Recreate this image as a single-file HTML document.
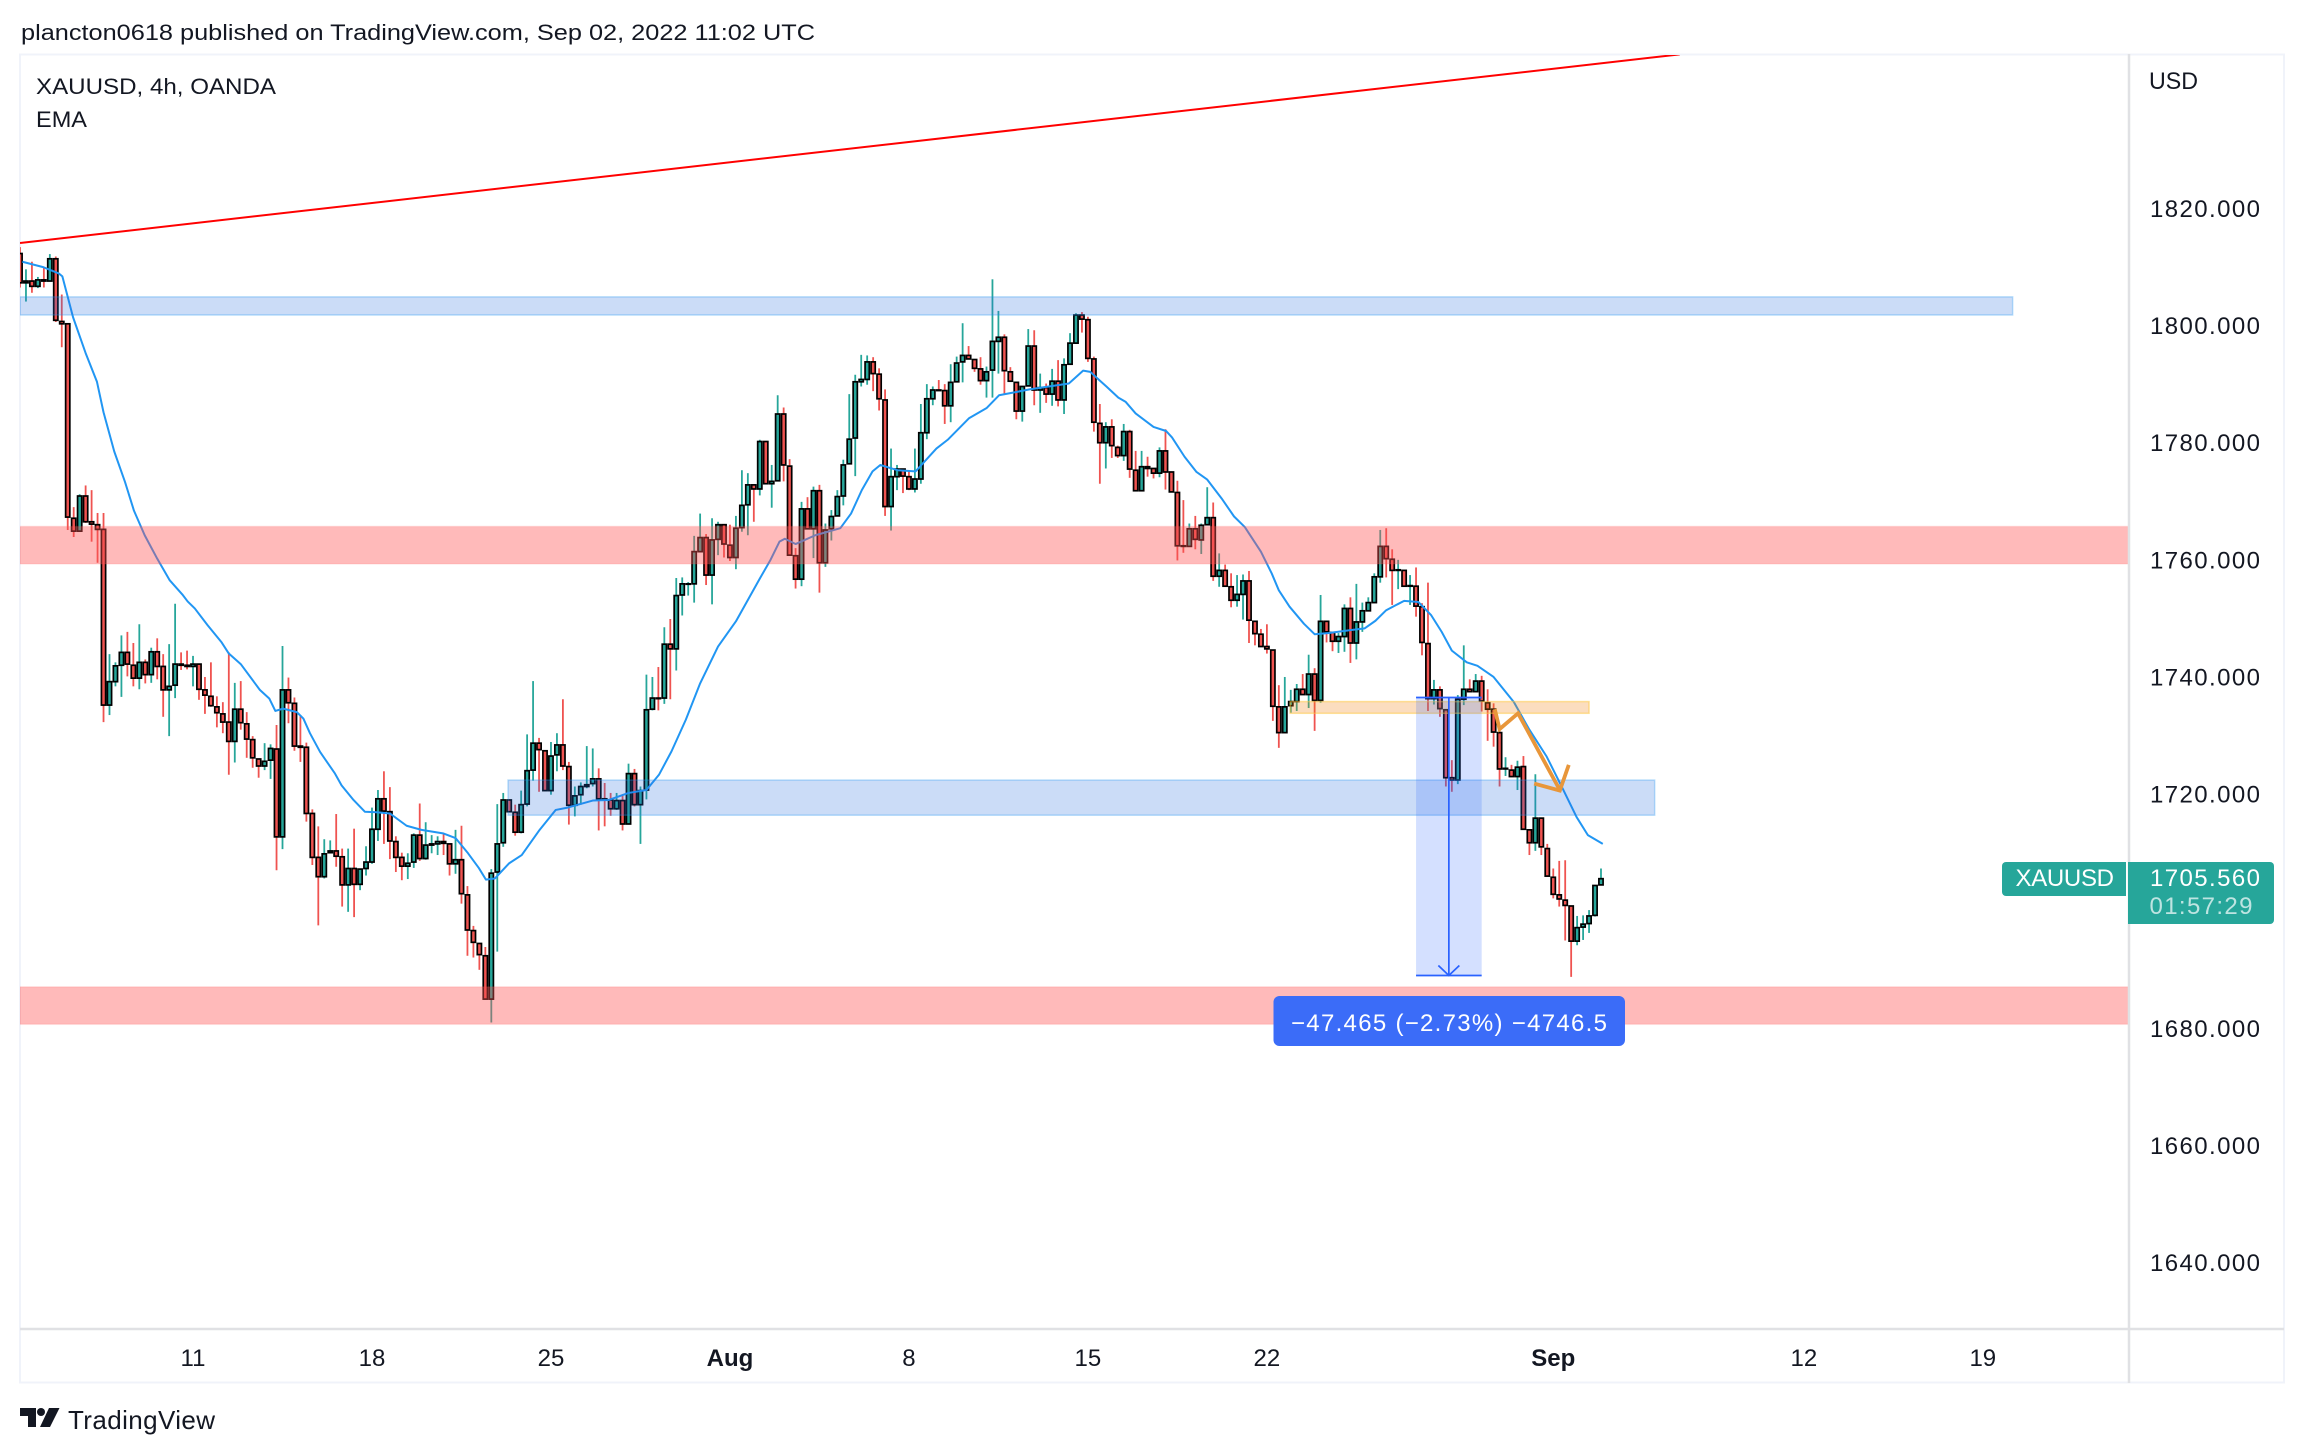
<!DOCTYPE html>
<html lang="en">
<head>
<meta charset="utf-8">
<title>XAUUSD 4h chart</title>
<style>
html,body{margin:0;padding:0;background:#fff;width:2304px;height:1454px;overflow:hidden}
svg{display:block}
text{font-family:"Liberation Sans",sans-serif;fill:#131722}
</style>
</head>
<body>
<svg id="chart" xmlns="http://www.w3.org/2000/svg" width="2304" height="1454" viewBox="0 0 2304 1454">
  <defs>
    <clipPath id="plot-clip"><rect x="20" y="55" width="2108" height="1273"/></clipPath>
  </defs>
  <rect x="0" y="0" width="2304" height="1454" fill="#fff"/>
  <text x="21" y="40" font-size="22" textLength="794" lengthAdjust="spacingAndGlyphs">plancton0618 published on TradingView.com, Sep 02, 2022 11:02 UTC</text>
  <rect x="20" y="54.5" width="2264" height="1328" fill="none" stroke="#f0f3fa" stroke-width="2"/>
  <g id="candles" clip-path="url(#plot-clip)"></g>
  <g id="ema" clip-path="url(#plot-clip)"></g>
  <g id="zones" clip-path="url(#plot-clip)"></g>
  <g id="drawings" clip-path="url(#plot-clip)"></g>
  <line x1="2129" y1="54" x2="2129" y2="1383" stroke="#e0e1e4" stroke-width="2.5"/>
  <line x1="20" y1="1329" x2="2284" y2="1329" stroke="#e0e1e4" stroke-width="2.5"/>
  <text x="36" y="94" font-size="22" textLength="240" lengthAdjust="spacingAndGlyphs">XAUUSD, 4h, OANDA</text>
  <text x="36" y="127" font-size="22" textLength="51" lengthAdjust="spacingAndGlyphs">EMA</text>
  <text x="2149" y="89" font-size="24" textLength="49" lengthAdjust="spacingAndGlyphs">USD</text>
  <g id="price-axis"></g>
  <g id="time-axis"></g>
  <g id="measure-label">
    <rect x="1273.5" y="996" width="351.5" height="50" rx="6" fill="#3b6cf8"/>
    <text x="1291" y="1031" font-size="24" textLength="316" lengthAdjust="spacing" style="fill:#fff">−47.465 (−2.73%) −4746.5</text>
  </g>
  <g>
    <path d="M2006 862H2126V896H2006a4 4 0 0 1-4-4V866a4 4 0 0 1 4-4Z" fill="#26a69a"/>
    <text x="2015.5" y="886" font-size="24" textLength="98.5" lengthAdjust="spacing" style="fill:#fff">XAUUSD</text>
    <path d="M2128 862H2270a4 4 0 0 1 4 4V920a4 4 0 0 1-4 4H2128Z" fill="#26a69a"/>
    <text x="2150" y="886" font-size="24" textLength="110" lengthAdjust="spacing" style="fill:#fff">1705.560</text>
    <text x="2149.5" y="914" font-size="24" textLength="103" lengthAdjust="spacing" style="fill:#fff;fill-opacity:.7">01:57:29</text>
  </g>
  <g>
    <path d="M20 1408H36V1427H28V1416H20Z" fill="#131722"/>
    <circle cx="41" cy="1412" r="4" fill="#131722"/>
    <path d="M49 1408H59.500L50 1427H40Z" fill="#131722"/>
    <text x="68" y="1429" font-size="26" textLength="147" lengthAdjust="spacing">TradingView</text>
  </g>
</svg>
<script>
var opens=[1812.3,1807.3,1807.6,1806.7,1807.8,1807.6,1811.4,1800.7,1800.3,1767.1,
1764.9,1770.9,1766.5,1766,1765.2,1735.2,1739.2,1742,1744.2,1742,
1739.8,1742.5,1740.4,1744.3,1741.8,1737.8,1738.6,1742.2,1742,1741.8,
1742.2,1737.8,1736.7,1734.9,1733.7,1732.3,1729,1734.5,1732,1729.3,
1726,1724.8,1725.8,1727.7,1712.7,1737.8,1735.5,1728.2,1728,1716.7,
1709.2,1705.9,1710,1710.3,1709.3,1704.5,1707.3,1704.6,1707.3,1708.4,
1714,1719.2,1717,1711.9,1709.2,1707.7,1708.4,1713,1709,1711.3,
1711.5,1711.9,1711.5,1708.1,1708.8,1702.8,1696.7,1694.5,1692.4,1685,
1706.7,1711.7,1719,1716.9,1713.5,1718.3,1724.1,1728.7,1727.4,1720.6,
1726.7,1728.4,1724.7,1718.1,1719.9,1721.3,1721.8,1722.6,1719.2,1719,
1717.5,1718.9,1714.9,1723.5,1718.2,1720.7,1734.5,1736.4,1736.4,1745.6,
1744.8,1754,1755.9,1755.9,1761.4,1763.8,1757.4,1763.5,1766,1762.5,
1760.4,1765.5,1769.4,1772.8,1772.1,1780.2,1773,1773.5,1784.9,1776,
1760.7,1756.7,1768.7,1765.3,1771.8,1759.5,1765.3,1767.5,1770.9,1776.4,
1780.8,1790.4,1790.8,1793.8,1791.7,1787.3,1769.1,1774.2,1775.5,1774.2,
1772.1,1773.8,1781.7,1787.5,1789,1788.9,1786.3,1790.4,1793.8,1794.9,
1794.2,1792.6,1790.6,1792.4,1797.3,1798,1792.1,1790.3,1785.4,1789.7,
1796.5,1789,1789.4,1788.3,1790.5,1787.3,1793.4,1797,1801.8,1801,
1794.3,1783.3,1780,1782.7,1779.2,1777.8,1781.9,1775.3,1771.8,1775.9,
1775.6,1774.8,1778.6,1775,1771.5,1762.4,1762.3,1765.3,1763.4,1766,
1767.2,1757.2,1758.2,1755.4,1753.1,1754.1,1756.4,1749.5,1747.3,1745.2,
1744.6,1734.9,1730.5,1735.1,1735.8,1737.9,1737,1740.5,1736,1749.5,
1747.6,1746.1,1746.9,1751.7,1745.8,1749.4,1751.3,1752.7,1757.1,1762.3,
1760.1,1758.2,1758.2,1755.5,1755.5,1752,1745.7,1736.3,1737.8,1734.4,
1722.8,1722.4,1736.2,1737.9,1737.5,1739.3,1735.6,1734.5,1730.5,1724.3,
1724.1,1723,1724.7,1713.9,1711.7,1715.9,1710.7,1705.8,1702.8,1701.9,
1700.9,1694.9,1697.3,1697.9,1699.3,1704.5];
var closes=[1807.3,1807.6,1806.7,1807.8,1807.6,1811.4,1800.9,1800.3,1767.3,1764.9,
1770.9,1766.5,1766.1,1765.2,1735.2,1739.2,1741.9,1744.2,1742.2,1739.8,
1742.5,1740.4,1744.3,1741.8,1737.8,1738.4,1742.2,1742,1741.8,1742.2,
1737.9,1736.9,1735.1,1733.9,1732.3,1729,1734.5,1732.2,1729.4,1726.2,
1724.8,1725.6,1727.8,1712.7,1737.8,1735.6,1728.2,1728,1716.7,1709.2,
1705.9,1709.8,1710.3,1709.4,1704.5,1707.3,1704.6,1707.2,1708.4,1714,
1719.2,1717.1,1712,1709.2,1707.7,1708.2,1713,1709,1711.3,1711.5,
1711.9,1711.6,1708.1,1708.8,1703,1696.8,1694.7,1692.6,1685,1706.5,
1711.5,1719,1717,1713.5,1718.2,1724,1728.7,1727.6,1720.6,1726.5,
1728.4,1724.8,1718.1,1719.7,1721.3,1721.6,1722.6,1719.2,1719,1717.5,
1718.9,1714.9,1723.5,1718.2,1720.6,1734.4,1736.4,1736.3,1745.6,1744.8,
1753.9,1755.9,1755.9,1761.4,1763.8,1757.4,1763.4,1766,1762.7,1760.4,
1765.4,1769.3,1772.8,1772.1,1780.2,1773,1773.4,1784.9,1776.2,1760.8,
1756.7,1768.7,1765.3,1771.8,1759.5,1765.1,1767.4,1770.8,1776.2,1780.6,
1790.4,1790.8,1793.8,1791.8,1787.5,1769.1,1774.2,1775.5,1774.3,1772.1,
1773.8,1781.7,1787.5,1789,1788.9,1786.3,1790.3,1793.6,1794.9,1794.3,
1792.7,1790.6,1792.1,1797.3,1798,1792.3,1790.5,1785.4,1789.6,1796.5,
1789,1789.4,1788.3,1790.5,1787.3,1793.3,1797,1801.8,1801.1,1794.4,
1783.5,1780,1782.7,1779.5,1777.8,1781.9,1775.5,1771.8,1775.9,1775.6,
1774.8,1778.6,1775,1771.6,1762.4,1762.3,1765.3,1763.5,1765.9,1767.2,
1757.2,1758.2,1755.5,1753.1,1754.1,1756.4,1749.7,1747.4,1745.2,1744.8,
1735,1730.5,1734.9,1735.8,1737.9,1737,1740.5,1736,1749.5,1747.7,
1746.1,1746.9,1751.7,1745.8,1749.4,1751.3,1752.7,1757.1,1762.3,1760.2,
1758.2,1758.3,1755.5,1755.6,1752.1,1745.9,1736.3,1737.8,1734.6,1722.8,
1722.4,1736.2,1737.9,1737.5,1739.3,1735.9,1734.5,1730.6,1724.3,1724.4,
1723,1724.6,1714,1711.7,1715.9,1711,1706,1702.9,1702.1,1701,
1694.9,1697.2,1697.8,1699.2,1704.4,1705.56];
var highs=[1813.4,1809.6,1810.9,1808.3,1809.9,1812.2,1811.8,1805.3,1800.3,1769,
1771.2,1772.7,1771.9,1768,1768,1743.9,1742.5,1747.1,1747.7,1745.8,
1749,1743,1745,1746.6,1743.9,1745.6,1752.5,1744.2,1744.5,1743.6,
1742.2,1740,1742.5,1736.7,1735.7,1744.2,1739,1739.3,1734,1729.9,
1726,1728.7,1728.5,1731.8,1745.3,1739.9,1736.5,1733.5,1728.8,1717.4,
1714.5,1712.3,1712.1,1716.6,1710.7,1710.7,1714.1,1707.2,1711.1,1717.7,
1720.7,1723.9,1721.2,1712.8,1710,1709.9,1713.3,1718.4,1715.2,1713,
1712.8,1713.3,1711.5,1713.9,1714.6,1704.3,1697.5,1694.5,1693.9,1707.2,
1718.3,1720.2,1719.1,1718.2,1720.6,1730.2,1739.3,1729.6,1727.4,1728.9,
1730.4,1736.2,1725.5,1721.3,1722,1728.2,1727.8,1724.4,1721.9,1720.2,
1720.2,1719.7,1725.2,1724.3,1721.3,1740.4,1740,1741.7,1748.5,1749.9,
1756.9,1757,1756.2,1764.1,1767.9,1764.4,1767.1,1766.5,1766,1766,
1767.5,1775.3,1774.8,1772.8,1780.5,1780.3,1776.2,1788.1,1786,1777.2,
1762,1769.9,1770.7,1772.5,1772.8,1766.2,1768.5,1771.9,1777.1,1788.3,
1791.6,1795,1794.9,1794.6,1792.7,1789.1,1779,1776.2,1775.5,1775.3,
1779,1786.6,1790,1789.6,1790.7,1790,1793.4,1794.7,1800.4,1796.5,
1794.2,1794.6,1793,1807.9,1802.5,1798.5,1792.9,1790.3,1789.7,1799.4,
1799.2,1791.8,1790.1,1792.6,1794.1,1794.4,1798.7,1802.1,1802.3,1801.5,
1794.7,1786.6,1783.5,1784,1779.5,1783.2,1782.2,1778.6,1778.6,1777.6,
1775.6,1779.2,1782.3,1775,1773.5,1770.2,1766.2,1767.5,1766.2,1772.4,
1769.8,1761.1,1759.2,1757.7,1757.4,1757.5,1758.1,1749.5,1748.2,1749,
1744.6,1738.6,1740,1737.8,1738.8,1740.5,1743.8,1741.5,1754,1749.5,
1747.6,1747.5,1752.4,1753.6,1755.9,1752.7,1753.6,1757.7,1765.1,1765.4,
1761.8,1760,1758.2,1757.4,1758.7,1752.6,1756.1,1739.5,1738.4,1734.4,
1725.8,1736.9,1745.4,1739.6,1740.5,1740.2,1737.9,1735.5,1731.8,1726.3,
1725,1725.7,1726.5,1713.9,1723.4,1715.9,1711.5,1707.3,1708.6,1708.7,
1700.9,1699.2,1699.3,1700.2,1704.4,1707.3];
var lows=[1806.5,1804.1,1805.6,1806.4,1806.5,1807.6,1800.6,1796.3,1765.1,1763.9,
1764.9,1766.3,1763.1,1759.5,1732.3,1733.5,1738.4,1736.6,1740.1,1738.4,
1737.9,1738.9,1739,1739.6,1733.2,1729.9,1736.4,1741.2,1741.3,1738.4,
1736.1,1733.7,1734.9,1731.4,1730.4,1723.3,1725.4,1731,1726.2,1724.5,
1722.8,1724.1,1722.6,1707,1710.6,1732.1,1727.4,1725.5,1715.3,1707.9,
1697.6,1705.6,1709.9,1707.6,1700.8,1699.9,1699,1703.6,1706.1,1708.1,
1712,1711.5,1708.9,1706.7,1705.3,1705.5,1707.4,1708.6,1708.8,1709.9,
1709.6,1709.6,1706.1,1706.4,1701.3,1692.4,1692.1,1690,1685,1681,
1693.1,1711,1717,1712.9,1713.3,1717.9,1722.3,1720.4,1720.6,1719.9,
1723.9,1724.1,1714.8,1716.2,1718.2,1721,1721.3,1713.8,1714.5,1716.3,
1717.3,1713.8,1714.8,1717.9,1711.5,1719.1,1734.3,1734.3,1735.4,1736.2,
1741.1,1750.5,1753.9,1752.7,1761.7,1755.7,1752.4,1760.8,1760.4,1759.8,
1758.4,1764.8,1764.2,1766.5,1771,1773,1768.9,1773.5,1773.4,1760.8,
1755.1,1755.5,1765.3,1760.3,1754.4,1758.8,1763.3,1767.5,1769.3,1776.4,
1774.3,1789.6,1789.9,1788.8,1785.5,1767.5,1765,1771.9,1771.4,1771.9,
1771.5,1773,1780.6,1786.4,1788.9,1783.2,1783.5,1790.4,1790.3,1794.3,
1792.1,1789.9,1787.7,1787.7,1791.8,1788.3,1790.5,1784,1783.6,1789.7,
1786.4,1785.1,1786.8,1786.3,1786.2,1784.9,1793.4,1797,1798.8,1793.8,
1781.9,1773,1775.6,1777.4,1777.4,1776.9,1774,1771.8,1771.8,1774.2,
1773.9,1774.1,1772,1771.6,1759.9,1761.2,1762.3,1761.8,1761,1766,
1756.4,1755.4,1755.4,1751.9,1752,1749.8,1745.8,1745.4,1745.2,1744,
1732.5,1727.9,1730.5,1733.9,1734.2,1737,1734.7,1730.8,1735.6,1745.9,
1744.4,1744.1,1744.3,1742.4,1743,1747.7,1751.3,1752.6,1756.1,1757,
1752.3,1755,1755.5,1752.3,1750.3,1743.7,1734.2,1735.3,1733.2,1721.3,
1720.4,1721.7,1735.2,1737.5,1737.5,1734.1,1729.1,1728.1,1721.3,1723.1,
1722.9,1720.7,1714,1709.6,1710.3,1709.6,1706,1702.2,1700.8,1695,
1688.8,1694.2,1695.1,1696.3,1699.1,1704.5];
var emaBars=[0.4,3.8,6.5,7.1,8.9,11,12.9,14,15.8,17.6,
19.1,20.9,23,25.1,27.2,28.1,29.3,31.4,33.8,35,
37,40.2,41.8,42.8,44.1,46.4,47.5,48.6,50.3,52.8,
53.9,55.9,57.8,59.8,62,64.8,67.3,70.9,73,75.1,
76.9,78.1,79.6,82,84.1,87.1,89.8,91.8,96,98.7,
102,105,107.1,109.2,111.6,114,117,120,124,125.8,
127.3,128.2,130,133.3,137.5,139.3,141.1,142.9,144.2,147.1,
150.1,153.6,155.5,159.1,162,164.1,166.2,169.2,175.8,178.2,
179.4,181,182.1,184.1,185.3,187,190,192.1,193.1,195.2,
197.2,199,201.4,203.5,205.3,208,209.8,211,212.8,215.2,
217,219.4,223,225.4,227.2,229,232,234.4,236.5,238.3,
240,242.5,244.3,247,250.4,253,255.9,258.7,260.9,262.8,
265.3];
var emaValues=[1810.9,1810,1808.9,1808.4,1801.4,1795.3,1790.4,1785.2,1778.5,1773.3,
1768.4,1764.2,1760.2,1756.5,1754.1,1752.9,1751.7,1748.9,1745.9,1744,
1742.2,1737.8,1736.3,1734.2,1734.6,1734,1732.9,1730.4,1727.2,1723.5,
1721.5,1719,1717,1716.9,1716.7,1714.6,1713.9,1713.3,1712.5,1709.9,
1707.4,1705.4,1705.6,1708.2,1709.6,1713.9,1717.3,1717.7,1718.9,1719,
1720.2,1720.7,1723.3,1727.3,1732.7,1738.9,1745.2,1749.5,1756.8,1760,
1763.1,1763.6,1762.7,1764.2,1765.4,1767.9,1771.9,1775.1,1776.2,1775.3,
1775.1,1779,1780.5,1784.2,1785.9,1788.1,1788.5,1789.1,1790.1,1792.3,
1792.1,1790.6,1789.6,1787.7,1787,1785,1782.7,1782,1780.9,1777.6,
1775,1773.7,1770.5,1767.4,1765.6,1761.4,1757.7,1754.8,1752,1749.1,
1747.3,1747.5,1748,1748.3,1749.6,1751.4,1753,1752.8,1750.6,1747.7,
1744.5,1742.5,1741.9,1740,1735.7,1731,1726.4,1720.7,1716.1,1713,
1711.5];
var priceTicks=[1820,1800,1780,1760,1740,1720,1700,1680,1660,1640];
var priceTickLabels=["1820.000","1800.000","1780.000","1760.000","1740.000","1720.000","","1680.000","1660.000","1640.000"];
var timeLabels=["11","18","25","Aug","8","15","22","Sep","12","19"];
var timeLabelBars=[29,59,89,119,149,179,209,257,299,329];
var zoneFromBars=[0,0,0,81.8,212.9];
var zoneToBars=[334,354,354,274,263];
var zoneHighs=[1804.9,1765.7,1687.1,1722.4,1735.8];
var zoneLows=[1801.8,1759.3,1680.7,1716.4,1733.8];
var zoneNames=["resistance-zone-blue","supply-zone-red","demand-zone-red","support-zone-blue","retest-zone-orange"];
var zoneFills=["rgba(36,110,220,.24)","rgba(255,82,82,.4)","rgba(255,82,82,.4)","rgba(36,110,220,.24)","rgba(240,130,20,.27)"];
var zoneStrokes=["rgba(33,150,243,.3)","rgba(255,82,82,.12)","rgba(255,82,82,.12)","rgba(33,150,243,.3)","rgba(255,200,60,.5)"];
var trendBars=[0,278.2];
var trendPrices=[1814.1,1846.3];
var measureBars=[234,245];
var measurePrices=[1736.5,1689.03];
var pathBars=[247.2,248,251.1,258.1];
var pathPrices=[1734.5,1731.1,1733.8,1720.7];
var headBars=[253.8,258.1,259.6];
var headPrices=[1721.8,1720.6,1725];

var SVGNS='http://www.w3.org/2000/svg';
function xOf(bar){return 20+bar*5.966;}
function yOf(price){return 1028.4-(price-1680)*5.857;}
function mk(tag,parent){var el=document.createElementNS(SVGNS,tag);parent.appendChild(el);return el;}
function pts(bars,prices){var s=[];for(var i=0;i<bars.length;i++){s.push(xOf(bars[i]).toFixed(2)+','+yOf(prices[i]).toFixed(2));}return s.join(' ');}

var candleLayer=document.getElementById('candles');
for(var i=0;i<opens.length;i++){
  var up=closes[i]>=opens[i];
  var col=up?'#26a69a':'#ef5350';
  var cx=xOf(i);
  var wick=mk('line',candleLayer);
  
  
  wick.setAttribute('x1',cx);wick.setAttribute('x2',cx);
  wick.setAttribute('y1',yOf(highs[i]));wick.setAttribute('y2',yOf(lows[i]));
  wick.setAttribute('stroke',col);wick.setAttribute('stroke-width','1.8');
  var bodyTop=yOf(Math.max(opens[i],closes[i]));
  var bodyBottom=yOf(Math.min(opens[i],closes[i]));
  var body=mk('rect',candleLayer);
  
  
  body.setAttribute('x',cx-2.1);body.setAttribute('width',4.2);
  body.setAttribute('y',bodyTop);body.setAttribute('height',Math.max(bodyBottom-bodyTop,0.4));
  body.setAttribute('fill',col);body.setAttribute('stroke','#000');body.setAttribute('stroke-width','1.7');
}

var emaLayer=document.getElementById('ema');
var emaLine=mk('polyline',emaLayer);


emaLine.setAttribute('points',pts(emaBars,emaValues));
emaLine.setAttribute('fill','none');emaLine.setAttribute('stroke','#2196f3');emaLine.setAttribute('stroke-width','2');emaLine.setAttribute('stroke-linejoin','round');

var zoneLayer=document.getElementById('zones');
for(var z=0;z<zoneNames.length;z++){
  var zr=mk('rect',zoneLayer);
  
  
  zr.setAttribute('x',xOf(zoneFromBars[z]));
  zr.setAttribute('width',xOf(zoneToBars[z])-xOf(zoneFromBars[z]));
  zr.setAttribute('y',yOf(zoneHighs[z]));
  zr.setAttribute('height',yOf(zoneLows[z])-yOf(zoneHighs[z]));
  zr.setAttribute('fill',zoneFills[z]);
  zr.setAttribute('stroke',zoneStrokes[z]);
  zr.setAttribute('stroke-width','1.5');
}

var drawLayer=document.getElementById('drawings');
var trend=mk('polyline',drawLayer);


trend.setAttribute('points',pts(trendBars,trendPrices));
trend.setAttribute('fill','none');trend.setAttribute('stroke','#ff0000');trend.setAttribute('stroke-width','2');

var mBox=mk('rect',drawLayer);


mBox.setAttribute('x',xOf(measureBars[0]));
mBox.setAttribute('width',xOf(measureBars[1])-xOf(measureBars[0]));
mBox.setAttribute('y',yOf(measurePrices[0]));
mBox.setAttribute('height',yOf(measurePrices[1])-yOf(measurePrices[0]));
mBox.setAttribute('fill','rgba(41,98,255,.2)');

for(var m=0;m<2;m++){
  var mEdge=mk('line',drawLayer);
  
  
  mEdge.setAttribute('x1',xOf(measureBars[0]));mEdge.setAttribute('x2',xOf(measureBars[1]));
  mEdge.setAttribute('y1',yOf(measurePrices[m]));mEdge.setAttribute('y2',yOf(measurePrices[m]));
  mEdge.setAttribute('stroke','#2962ff');mEdge.setAttribute('stroke-width','1.7');
}
var midBar=(measureBars[0]+measureBars[1])/2;
var mLine=mk('line',drawLayer);


mLine.setAttribute('x1',xOf(midBar));mLine.setAttribute('x2',xOf(midBar));
mLine.setAttribute('y1',yOf(measurePrices[0]));mLine.setAttribute('y2',yOf(measurePrices[1]));
mLine.setAttribute('stroke','#2962ff');mLine.setAttribute('stroke-width','1.7');
var mHead=mk('polyline',drawLayer);


var mhx=xOf(midBar),mhy=yOf(measurePrices[1]);
mHead.setAttribute('points',(mhx-10.5)+','+(mhy-10)+' '+mhx+','+mhy+' '+(mhx+10.5)+','+(mhy-10));
mHead.setAttribute('fill','none');mHead.setAttribute('stroke','#2962ff');mHead.setAttribute('stroke-width','1.7');

var orangePath=mk('polyline',drawLayer);


orangePath.setAttribute('points',pts(pathBars,pathPrices));
orangePath.setAttribute('fill','none');orangePath.setAttribute('stroke','#e8963a');orangePath.setAttribute('stroke-width','3.8');
var orangeHead=mk('polyline',drawLayer);


orangeHead.setAttribute('points',pts(headBars,headPrices));
orangeHead.setAttribute('fill','none');orangeHead.setAttribute('stroke','#e8963a');orangeHead.setAttribute('stroke-width','3.8');

var pAxis=document.getElementById('price-axis');
for(var p=0;p<priceTicks.length;p++){
  if(!priceTickLabels[p]){continue;}
  var pt=mk('text',pAxis);
  
  
  pt.setAttribute('x','2150');
  pt.setAttribute('y',yOf(priceTicks[p])+8.5);
  pt.setAttribute('font-size','24');
  pt.setAttribute('textLength','110');
  pt.setAttribute('lengthAdjust','spacing');
  pt.textContent=priceTickLabels[p];
}
var tAxis=document.getElementById('time-axis');
for(var t=0;t<timeLabels.length;t++){
  var tt=mk('text',tAxis);
  
  
  tt.setAttribute('x',xOf(timeLabelBars[t]));
  tt.setAttribute('y','1366');
  tt.setAttribute('font-size','24');
  tt.setAttribute('text-anchor','middle');
  if(timeLabels[t]==='Aug'||timeLabels[t]==='Sep'){tt.setAttribute('font-weight','bold');}
  tt.textContent=timeLabels[t];
}
</script>
</body>
</html>
